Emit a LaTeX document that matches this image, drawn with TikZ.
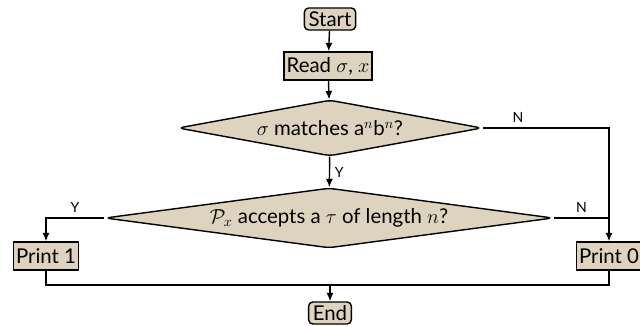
\documentclass[tikz,border=0pt]{standalone}
\usepackage{fontspec}
\setmainfont{Lato}
\usepackage{tikz}
\usetikzlibrary{shapes.geometric,arrows.meta}
\definecolor{boxtan}{HTML}{DDD3BE}

\begin{document}
\begin{tikzpicture}[x=0.025cm, y=-0.025cm,
			>={Latex[length=6pt,width=5pt]},   %Pfeilspitzen
			font=\fontsize{14.5}{16}\selectfont,
			block/.style={draw, fill=boxtan, line width=1pt, inner sep=2pt, minimum height=0.7cm},
			term/.style={block, rounded corners=3pt, minimum height=0.55cm, inner ysep=1.5pt, inner xsep=3pt},
			decide/.style={draw, fill=boxtan, line width=1pt, diamond, aspect=6, inner sep=0pt, rounded corners=4pt},
			flow/.style={line width=1pt},
			lbl/.style={font=\fontsize{10}{11}\selectfont}]
			%Rahmen festlegen
			\useasboundingbox (0,0) rectangle (640,327);
			% Knoten
			\node[term] (start) at (330,19) {Start};
			\node[block] (read) at (328,66) {Read $\sigma$, $x$};
			\node[decide, minimum width=7.6cm, minimum height=1.4cm] (match) at (330,128) {$\sigma$ matches a$^n$b$^n$?};
			\node[decide, minimum width=11.2cm, minimum height=1.5cm] (accept) at (329,218) {$\mathcal{P}_x$ accepts a $\tau$ of length $n$?};
			\node[block] (one) at (46,256) {Print 1};
			\node[block] (zero) at (609,256) {Print 0};
			\node[term] (end) at (330,313) {End};
			\coordinate (join) at (330,285);
			% Verbindungen
			\draw[flow,->] (start) -- (read);
			\draw[flow,->] (read) -- (match);
			\draw[flow,->] (match) -- node[lbl, right] {Y} (accept);
			\draw[flow,->] (match.east) -- node[lbl, above, pos=0.28] {N} (match.east -| zero) -- (zero);
			\draw[flow,->] (accept.west) -- node[lbl, above] {Y} (accept.west -| one) -- (one);
			\draw[flow] (accept.east) -- node[lbl, above] {N} (accept.east -| zero);
			\draw[flow] (one) -- (one |- join) -- (zero |- join) -- (zero);
			\draw[flow,->] (join) -- (end);
		\end{tikzpicture}
\end{document}
